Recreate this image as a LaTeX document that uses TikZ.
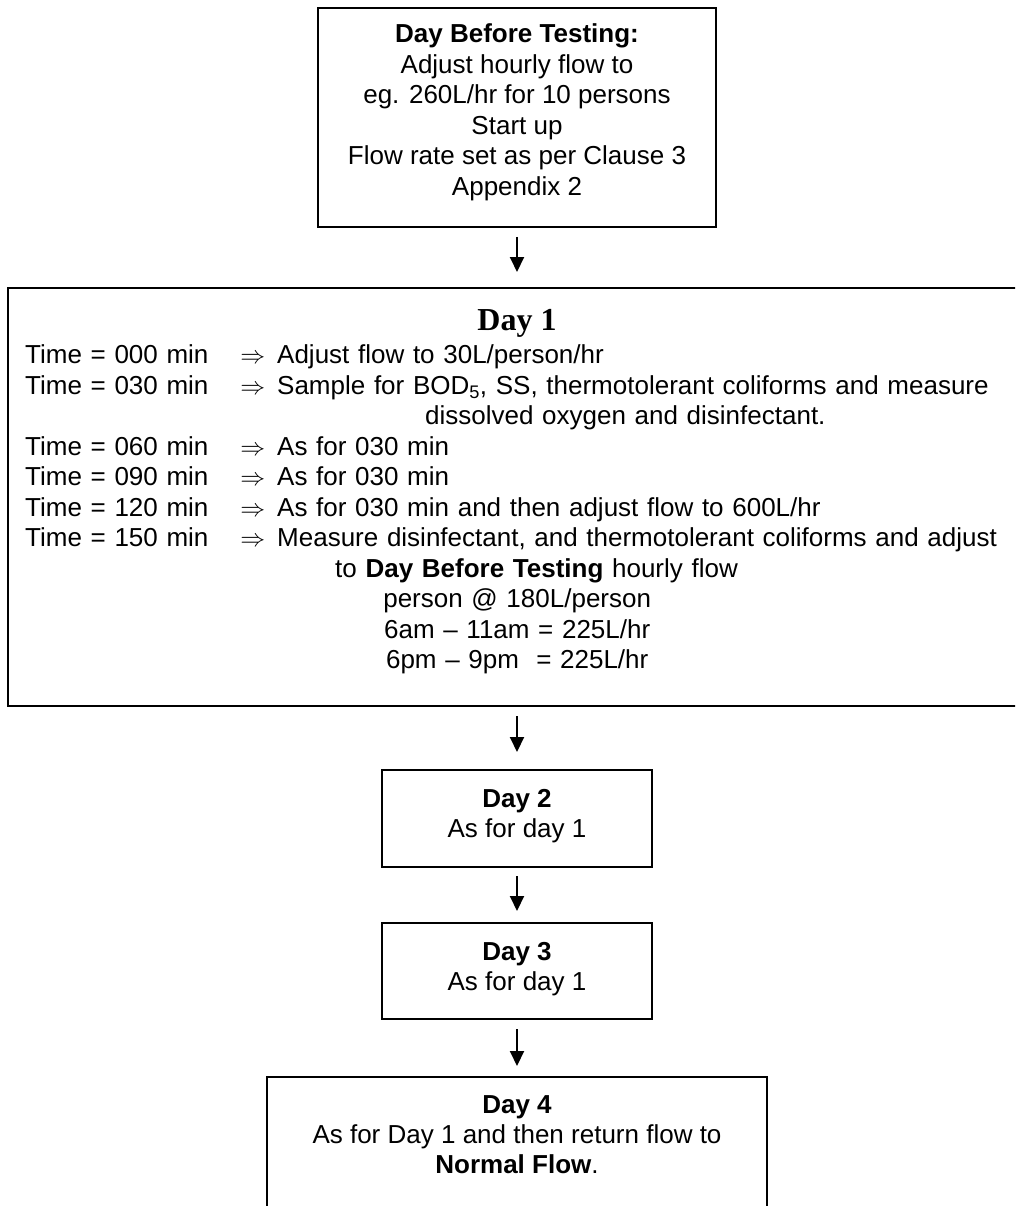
\documentclass[tikz,border=0pt]{standalone}
\usepackage{fontspec}
\setmainfont{Liberation Sans}
\newfontfamily\titleserif{Liberation Serif}
\usetikzlibrary{arrows.meta}
\newcommand\timelabel[1]{\makebox[252pt][l]{#1\hfill$\Rightarrow$\hspace{12pt}}}
\begin{document}
\begin{tikzpicture}[x=1pt,y=-1pt,
  box/.style={draw, line width=2pt, rectangle, inner sep=0pt},
  txt/.style={inner sep=0pt, align=center, font=\fontsize{26}{30.5}\selectfont},
  smalltxt/.style={inner sep=0pt, align=center, font=\fontsize{26}{30}\selectfont},
  flow/.style={line width=2pt, -{Triangle[length=15pt,width=14pt]}}]
\useasboundingbox (0,0) rectangle (1015,1206);
\clip (0,0) rectangle (1015,1206);
\fill[white] (0,0) rectangle (1015,1206);
% boxes
\node[box, minimum width=398pt, minimum height=219pt] (top) at (517,117.5) {};
\node[box, minimum width=1018pt, minimum height=418pt] (day1) at (517,497) {};
\node[box, minimum width=270pt, minimum height=97pt] (day2) at (517,818.5) {};
\node[box, minimum width=270pt, minimum height=96pt] (day3) at (517,971) {};
\node[box, minimum width=500pt, minimum height=163pt] (day4) at (517,1158.5) {};
% texts
\node[txt, anchor=north] (toptext) at (517,21) {\strut\textbf{Day Before Testing:}\\
Adjust hourly flow to\\
eg. 260L/hr for 10 persons\\
Start up\\
Flow rate set as per Clause 3\\
Appendix 2};
\node[inner sep=0pt, anchor=base, font=\titleserif\bfseries\fontsize{32}{36}\selectfont] (d1title) at (517,330.6) {Day 1};
\node[inner sep=0pt, anchor=north west, text width=984pt, align=left, font=\fontsize{26}{30.5}\selectfont] (d1text) at (25,342) {%
\strut\timelabel{Time = 000 min}Adjust flow to 30L/person/hr\\
\timelabel{Time = 030 min}Sample for BOD\textsubscript{5}, SS, thermotolerant coliforms and measure\\
\hspace*{400pt}dissolved oxygen and disinfectant.\\
\timelabel{Time = 060 min}As for 030 min\\
\timelabel{Time = 090 min}As for 030 min\\
\timelabel{Time = 120 min}As for 030 min and then adjust flow to 600L/hr\\
\timelabel{Time = 150 min}Measure disinfectant, and thermotolerant coliforms and adjust\\
\hspace*{310pt}to \textbf{Day Before Testing} hourly flow\\
\makebox[984pt]{person @ 180L/person}\\
\makebox[984pt]{6am – 11am = 225L/hr}\\
\makebox[984pt]{6pm – 9pm\ \ = 225L/hr}};
\node[smalltxt, anchor=north] (d2text) at (517,786.3) {\strut\textbf{Day 2}\\As for day 1};
\node[smalltxt, anchor=north] (d3text) at (517,939.3) {\strut\textbf{Day 3}\\As for day 1};
\node[smalltxt, anchor=north] (d4text) at (517,1092.3) {\strut\textbf{Day 4}\\As for Day 1 and then return flow to\\\textbf{Normal Flow}.};
% connectors
\draw[flow, shorten <=9pt, shorten >=15pt] (top.south) -- (day1.north);
\draw[flow, shorten <=9pt, shorten >=17pt] (day1.south) -- (day2.north);
\draw[flow, shorten <=8pt, shorten >=11pt] (day2.south) -- (day3.north);
\draw[flow, shorten <=9pt, shorten >=10pt] (day3.south) -- (day4.north);
\end{tikzpicture}
\end{document}
